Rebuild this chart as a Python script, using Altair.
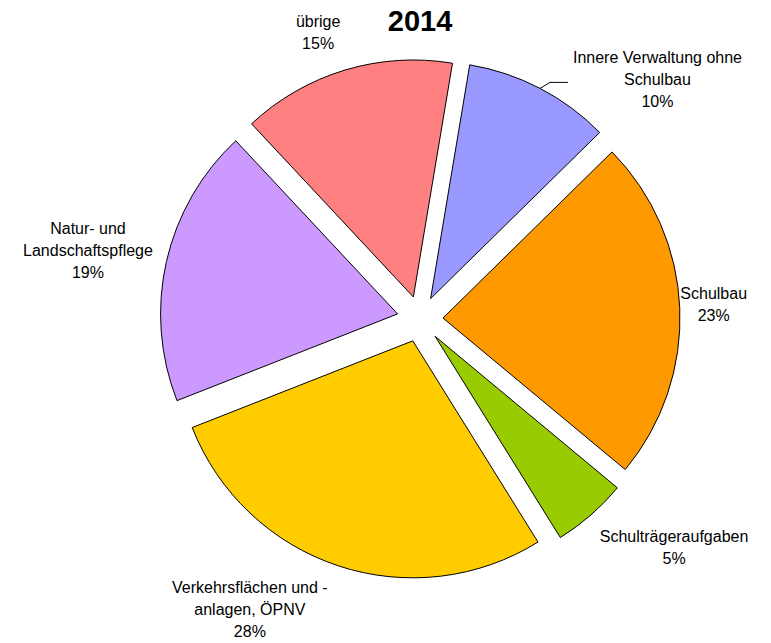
import math
import altair as alt
import pandas as pd

# ---- data ----
title_text = "2014"
categories = [
    "Innere Verwaltung ohne Schulbau",
    "Schulbau",
    "Schulträgeraufgaben",
    "Verkehrsflächen und -anlagen, ÖPNV",
    "Natur- und Landschaftspflege",
    "übrige",
]
label_lines = [
    "Innere Verwaltung ohne\nSchulbau",
    "Schulbau",
    "Schulträgeraufgaben",
    "Verkehrsflächen und -\nanlagen, ÖPNV",
    "Natur- und\nLandschaftspflege",
    "übrige",
]
shares = [10.0, 23.4, 5.1, 27.9, 19.0, 14.6]

# ---- style / layout ----
colors = ["#9999FF", "#FF9900", "#99CC00", "#FFCC00", "#CC99FF", "#FF8080"]
label_turn_deg = [17.3, -0.3, -6.9, 12.0, -1.1, -2.8]  # label angle relative to slice middle
label_radius = [337, 294, 342, 337, 339, 304]          # px from pie centre
has_leader = [1, 0, 0, 0, 0, 0]

W, H = 755, 635
CX, CY = 412, 311          # pie centre inside plot area (px)
R = 237                    # pie radius
E = 23                     # explosion distance
START = math.radians(9.5)  # first slice starts here (clockwise from 12 o'clock)
FONT = "Liberation Sans"
LH = 22                    # label line height

df = pd.DataFrame({
    "order": list(range(len(categories))),
    "category": categories,
    "label": label_lines,
    "share": shares,
    "turn": label_turn_deg,
    "lr": label_radius,
    "leader": has_leader,
})

xs = alt.Scale(domain=[-CX, W - CX], nice=False, zero=False)
ys = alt.Scale(domain=[-(H - CY), CY], nice=False, zero=False)

base = (
    alt.Chart(df)
    .transform_joinaggregate(total="sum(share)")
    .transform_window(cum="sum(share)", sort=[alt.SortField("order")], frame=[None, 0])
    .transform_calculate(
        t0="(datum.cum - datum.share) / datum.total",
        t1="datum.cum / datum.total",
        mid=f"{START} + 2 * PI * (datum.cum - datum.share / 2) / datum.total",
    )
    .transform_calculate(
        ex=f"{E} * sin(datum.mid)",
        ey=f"{E} * cos(datum.mid)",
        la="datum.mid + datum.turn * PI / 180",
        txt="datum.label + '\\n' + format(datum.share / datum.total, '.0%')",
    )
    .transform_calculate(
        nl="length(split(datum.txt, '\\n'))",
        lx="datum.lr * sin(datum.la)",
        sx=f"{E + R} * sin(datum.mid)",
        sy=f"{E + R} * cos(datum.mid)",
    )
    .transform_calculate(
        ly=f"datum.lr * cos(datum.la) + (datum.nl - 1) * {LH / 2}",
        kx="datum.sx + 10",
        ky="datum.sy + 6",
    )
    .transform_calculate(
        fx="datum.kx + 18",
    )
)

arcs = base.mark_arc(radius=R, stroke="black", strokeWidth=1).encode(
    x=alt.X("ex:Q", scale=xs, axis=None),
    y=alt.Y("ey:Q", scale=ys, axis=None),
    theta=alt.Theta("t0:Q", scale=alt.Scale(domain=[0, 1], range=[START, START + 2 * math.pi]), stack=None),
    theta2="t1:Q",
    color=alt.Color("category:N", scale=alt.Scale(domain=categories, range=colors), legend=None),
    order=alt.Order("order:Q"),
)

labels = base.mark_text(
    font=FONT, fontSize=16, lineHeight=LH, lineBreak="\n",
    align="center", baseline="middle", color="black",
).encode(
    x=alt.X("lx:Q", scale=xs, axis=None),
    y=alt.Y("ly:Q", scale=ys, axis=None),
    text="txt:N",
)

lead1 = base.transform_filter("datum.leader == 1").mark_rule(color="black", strokeWidth=1).encode(
    x=alt.X("sx:Q", scale=xs, axis=None),
    y=alt.Y("sy:Q", scale=ys, axis=None),
    x2="kx:Q",
    y2="ky:Q",
)
lead2 = base.transform_filter("datum.leader == 1").mark_rule(color="black", strokeWidth=1).encode(
    x=alt.X("kx:Q", scale=xs, axis=None),
    y=alt.Y("ky:Q", scale=ys, axis=None),
    x2="fx:Q",
    y2="ky:Q",
)

title = alt.Chart(pd.DataFrame({"t": [title_text]})).mark_text(
    font=FONT, fontSize=29, fontWeight="bold", align="center", baseline="alphabetic", color="black",
).encode(
    x=alt.X("c:Q", scale=xs, axis=None),
    y=alt.value(23),
    text="t:N",
).transform_calculate(c="0")

chart = (
    alt.layer(arcs, lead1, lead2, labels, title)
    .properties(width=W, height=H, padding=0, autosize=alt.AutoSizeParams(type="none"))
    .configure_view(stroke=None)
)

chart.save("out.html", embed_options={"renderer": "svg", "actions": False})
